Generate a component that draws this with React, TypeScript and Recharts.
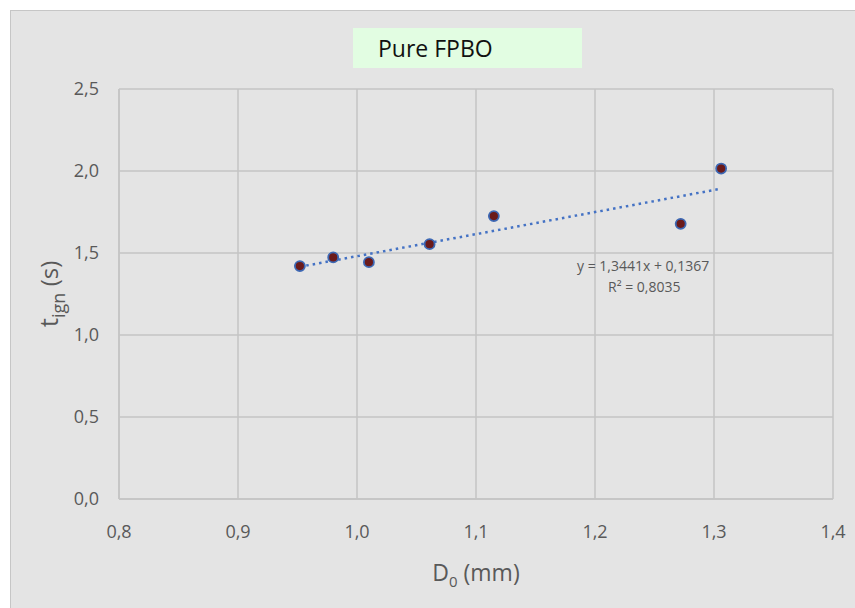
import React from 'react';
import { ScatterChart, Scatter, XAxis, YAxis, CartesianGrid, Label } from 'recharts';

// diameter D0 (mm) vs ignition time t_ign (s)
const diameters = [0.952, 0.98, 1.01, 1.061, 1.115, 1.272, 1.306];
const ignTimes = [1.42, 1.473, 1.444, 1.554, 1.725, 1.678, 2.015];

// linear trendline endpoints, as drawn (y = 1,3441x + 0,1367)
const trendX = [0.952, 1.306];
const trendY = [1.416, 1.892];

const xTicks = [0.8, 0.9, 1.0, 1.1, 1.2, 1.3, 1.4];
const yTicks = [0, 0.5, 1.0, 1.5, 2.0, 2.5];

const points = diameters.map((d, i) => ({ x: d, y: ignTimes[i] }));
const trend = trendX.map((d, i) => ({ x: d, y: trendY[i] }));

const fmt = (v: number) => v.toFixed(1).replace('.', ',');
const FONT = '"Open Sans", sans-serif';
const GREY = '#595959';
const GRID = '#c4c4c4';

const XTitle = (props: any) => {
  const vb = props.viewBox || {};
  const cx = vb.x + vb.width / 2;
  return (
    <text x={cx} y={581} textAnchor="middle" fill={GREY} fontFamily={FONT} fontSize={23}>
      D<tspan fontSize={15} dy={6}>0</tspan>
      <tspan dy={-6}> (mm)</tspan>
    </text>
  );
};

const YTitle = (props: any) => {
  const vb = props.viewBox || {};
  const cy = vb.y + vb.height / 2;
  const cx = 58;
  return (
    <text x={cx} y={cy} textAnchor="middle" fill={GREY} fontFamily={FONT} fontSize={26}
      transform={`rotate(-90, ${cx}, ${cy})`}>
      t<tspan fontSize={18} dy={7}>ign</tspan>
      <tspan dy={-7} fontSize={24}>{'\u00a0(s)'}</tspan>
    </text>
  );
};

export default function App() {
  return (
    <div style={{ position: 'absolute', left: 0, top: 0, width: 855, height: 608, background: '#fff', overflow: 'hidden' }}>
      <div style={{ position: 'absolute', left: 10, top: 10, width: 900, height: 700, background: '#e4e4e4', border: '1.5px solid #c6c6c6' }} />
      <div style={{ position: 'absolute', left: 0, top: 0 }}>
        <ScatterChart width={855} height={608} margin={{ top: 89, right: 22, left: 0, bottom: 0 }}>
          <CartesianGrid stroke={GRID} strokeWidth={1.5} />
          <XAxis type="number" dataKey="x" domain={[0.8, 1.4]} ticks={xTicks} tickFormatter={fmt}
            height={109} tickSize={0} tickMargin={26} axisLine={{ stroke: GRID, strokeWidth: 1.5 }}
            tick={{ fill: GREY, fontSize: 18, fontFamily: FONT }} allowDataOverflow>
            <Label content={XTitle} />
          </XAxis>
          <YAxis type="number" dataKey="y" domain={[0, 2.5]} ticks={yTicks} tickFormatter={fmt}
            width={119} tickSize={0} tickMargin={20} axisLine={{ stroke: GRID, strokeWidth: 1.5 }}
            tick={{ fill: GREY, fontSize: 18, fontFamily: FONT }} allowDataOverflow>
            <Label content={YTitle} />
          </YAxis>
          <Scatter data={trend} line={{ stroke: '#4472c4', strokeWidth: 2.5, strokeDasharray: '2.5 4' }}
            shape={() => <g />} isAnimationActive={false} legendType="none" />
          <Scatter data={points} fill="#6b1a1a" stroke="#3d68b4" strokeWidth={1.5}
            shape={(p: any) => <circle cx={p.cx} cy={p.cy} r={5} fill="#6b1a1a" stroke="#3d68b4" strokeWidth={1.8} />}
            isAnimationActive={false} />
        </ScatterChart>
      </div>
      <div style={{ position: 'absolute', left: 353, top: 28, width: 229, height: 40, background: '#e2fde2' }}>
        <div style={{ position: 'absolute', left: 25, top: 4, fontFamily: FONT, fontSize: 23, color: '#111', whiteSpace: 'nowrap' }}>Pure FPBO</div>
      </div>
      <div style={{ position: 'absolute', left: 577, top: 256, fontFamily: FONT, fontSize: 14, color: GREY, whiteSpace: 'nowrap' }}>
        y = 1,3441x + 0,1367
      </div>
      <div style={{ position: 'absolute', left: 608, top: 277, fontFamily: FONT, fontSize: 14, color: GREY, whiteSpace: 'nowrap' }}>
        R² = 0,8035
      </div>
    </div>
  );
}
